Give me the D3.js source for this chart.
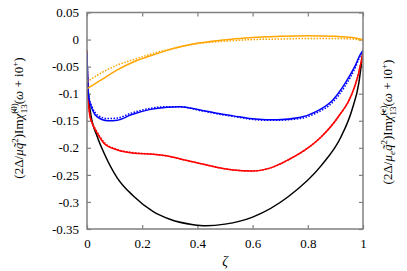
<!DOCTYPE html>
<html><head><meta charset="utf-8">
<script src="https://cdn.jsdelivr.net/npm/d3@7"></script>
<style>body{margin:0;background:#fff}svg{display:block}text{font-family:"Liberation Serif","Times New Roman",serif}</style>
</head><body>
<script>
const xTicks = [0, 0.2, 0.4, 0.6, 0.8, 1];
const xTickLabels = ["0", "0.2", "0.4", "0.6", "0.8", "1"];
const yTicks = [0.05, 0, -0.05, -0.1, -0.15, -0.2, -0.25, -0.3, -0.35];
const yTickLabels = ["0.05", "0", "-0.05", "-0.1", "-0.15", "-0.2", "-0.25", "-0.3", "-0.35"];

const blackZeta = [0, 0.002, 0.005, 0.013, 0.037, 0.062, 0.11, 0.17, 0.24, 0.3, 0.385, 0.43, 0.5, 0.6, 0.73, 0.85, 0.92, 0.96, 0.985, 1];
const blackSolid = [-0.02, -0.07, -0.10, -0.136, -0.179, -0.21, -0.256, -0.29, -0.318, -0.332, -0.342, -0.344, -0.341, -0.328, -0.29, -0.232, -0.18, -0.13, -0.08, -0.02];

const redZeta = [0, 0.002, 0.005, 0.01, 0.019, 0.037, 0.062, 0.11, 0.17, 0.24, 0.3, 0.35, 0.41, 0.47, 0.53, 0.6, 0.66, 0.73, 0.79, 0.85, 0.91, 0.96, 0.98, 1];
const redSolid = [-0.02, -0.08, -0.115, -0.14, -0.155, -0.173, -0.192, -0.204, -0.21, -0.212, -0.216, -0.222, -0.229, -0.236, -0.241, -0.243, -0.238, -0.222, -0.204, -0.179, -0.143, -0.10, -0.07, -0.025];
const redDotted = [-0.02, -0.08, -0.113, -0.138, -0.153, -0.171, -0.190, -0.203, -0.209, -0.212, -0.216, -0.222, -0.229, -0.236, -0.241, -0.243, -0.238, -0.222, -0.204, -0.179, -0.143, -0.10, -0.07, -0.025];

const blueZeta = [0, 0.002, 0.006, 0.02, 0.037, 0.075, 0.11, 0.16, 0.23, 0.29, 0.337, 0.41, 0.47, 0.53, 0.59, 0.65, 0.69, 0.77, 0.83, 0.89, 0.935, 0.97, 0.99, 1];
const blueSolid = [-0.025, -0.07, -0.106, -0.13, -0.143, -0.15, -0.149, -0.139, -0.129, -0.125, -0.124, -0.13, -0.136, -0.141, -0.146, -0.148, -0.148, -0.144, -0.133, -0.112, -0.081, -0.05, -0.028, -0.02];
const blueDotted = [-0.025, -0.068, -0.102, -0.126, -0.139, -0.146, -0.145, -0.136, -0.127, -0.124, -0.124, -0.131, -0.137, -0.142, -0.147, -0.149, -0.149, -0.146, -0.136, -0.116, -0.086, -0.054, -0.03, -0.02];

const orangeZeta = [0, 0.05, 0.11, 0.17, 0.23, 0.29, 0.35, 0.41, 0.47, 0.53, 0.6, 0.7, 0.8, 0.9, 0.96, 1];
const orangeSolid = [-0.091, -0.075, -0.056, -0.041, -0.030, -0.020, -0.012, -0.006, -0.002, 0.001, 0.004, 0.006, 0.007, 0.006, 0.004, 0.0];
const orangeDotted = [-0.078, -0.062, -0.047, -0.037, -0.027, -0.019, -0.012, -0.007, -0.004, -0.002, 0.0, 0.001, 0.002, 0.002, 0.001, -0.002];

const W = 407, H = 271;
const m = {left: 87, right: 363, top: 12.5, bottom: 229};
const FONT = '"Liberation Serif", "Times New Roman", serif';
const svg = d3.select("body").append("svg").attr("width", W).attr("height", H);

const x = d3.scaleLinear().domain([0, 1]).range([m.left, m.right]);
const y = d3.scaleLinear().domain([-0.35, 0.05]).range([m.bottom, m.top]);

svg.append("clipPath").attr("id", "clip").append("rect")
  .attr("x", m.left).attr("y", m.top).attr("width", m.right - m.left).attr("height", m.bottom - m.top);

const gridColor = "#808080";
const fs = 13;

const axL = svg.append("g").attr("transform", `translate(${m.left},0)`)
  .call(d3.axisLeft(y).tickValues(yTicks).tickFormat((d, i) => yTickLabels[i]).tickSizeInner(-4).tickSizeOuter(0).tickPadding(8));
const axR = svg.append("g").attr("transform", `translate(${m.right},0)`)
  .call(d3.axisRight(y).tickValues(yTicks).tickFormat("").tickSizeInner(-4).tickSizeOuter(0));
const axB = svg.append("g").attr("transform", `translate(0,${m.bottom})`)
  .call(d3.axisBottom(x).tickValues(xTicks).tickFormat((d, i) => xTickLabels[i]).tickSizeInner(-4).tickSizeOuter(0).tickPadding(10));
const axT = svg.append("g").attr("transform", `translate(0,${m.top})`)
  .call(d3.axisTop(x).tickValues(xTicks).tickFormat("").tickSizeInner(-4).tickSizeOuter(0));
[axL, axR, axB, axT].forEach(g => {
  g.attr("font-family", FONT).attr("font-size", fs);
  g.select(".domain").remove();
  g.selectAll(".tick line").attr("stroke", gridColor).attr("stroke-width", 1.2);
  g.selectAll(".tick text").attr("fill", "#000");
});

const series = [
  {z: blackZeta, v: blackSolid, c: "#000000", dash: null},
  {z: redZeta, v: redSolid, c: "#ff0000", dash: null},
  {z: redZeta, v: redDotted, c: "#ff0000", dash: "1.5 1.5"},
  {z: blueZeta, v: blueSolid, c: "#0000ff", dash: null},
  {z: blueZeta, v: blueDotted, c: "#0000ff", dash: "1.5 1.5"},
  {z: orangeZeta, v: orangeSolid, c: "#ffa500", dash: null},
  {z: orangeZeta, v: orangeDotted, c: "#ffa500", dash: "1.5 1.5"}
];
const line = d3.line().x(d => x(d[0])).y(d => y(d[1])).curve(d3.curveMonotoneX);
const gl = svg.append("g").attr("clip-path", "url(#clip)");
series.forEach(s => {
  gl.append("path").datum(s.z.map((z, i) => [z, s.v[i]]))
    .attr("d", line).attr("fill", "none").attr("stroke", s.c)
    .attr("stroke-width", 1.5)
    .attr("stroke-dasharray", s.dash);
});

svg.append("rect").attr("x", m.left).attr("y", m.top)
  .attr("width", m.right - m.left).attr("height", m.bottom - m.top)
  .attr("fill", "none").attr("stroke", gridColor).attr("stroke-width", 1.5);

svg.append("text").attr("x", (m.left + m.right) / 2).attr("y", 266)
  .attr("font-family", FONT)
  .attr("text-anchor", "middle").attr("font-size", 14).attr("font-style", "italic").text("ζ");

function mathLabel(cx, cy, sup, muSub) {
  const t = svg.append("text").attr("transform", `translate(${cx},${cy}) rotate(-90)`)
    .attr("font-family", FONT)
    .attr("text-anchor", "middle").attr("font-size", fs);
  t.append("tspan").text("(2Δ/");
  t.append("tspan").attr("font-style", "italic").text("μ");
  if (muSub) t.append("tspan").attr("font-style", "italic").attr("font-size", 9).attr("dy", 3).text("e");
  t.append("tspan").attr("font-style", "italic").attr("dy", muSub ? -3 : 0).text("q̃");
  t.append("tspan").attr("font-size", 9).attr("dy", -5).text("2");
  t.append("tspan").attr("dy", 5).text(")Im");
  t.append("tspan").attr("font-style", "italic").text("χ̃");
  t.append("tspan").attr("font-size", 9).attr("dy", -6).text(sup);
  t.append("tspan").attr("font-size", 9).attr("dx", sup === "(0)" ? -10 : -10).attr("dy", 10).text("13");
  t.append("tspan").attr("dy", -4).text("(");
  t.append("tspan").attr("font-style", "italic").text("ω");
  t.append("tspan").text(" + i0");
  t.append("tspan").attr("font-size", 9).attr("dy", -5).text("+");
  t.append("tspan").attr("dy", 5).text(")");
}
mathLabel(23, 118, "(0)", false);
mathLabel(392, 122, "(e)", true);
</script>
</body></html>
